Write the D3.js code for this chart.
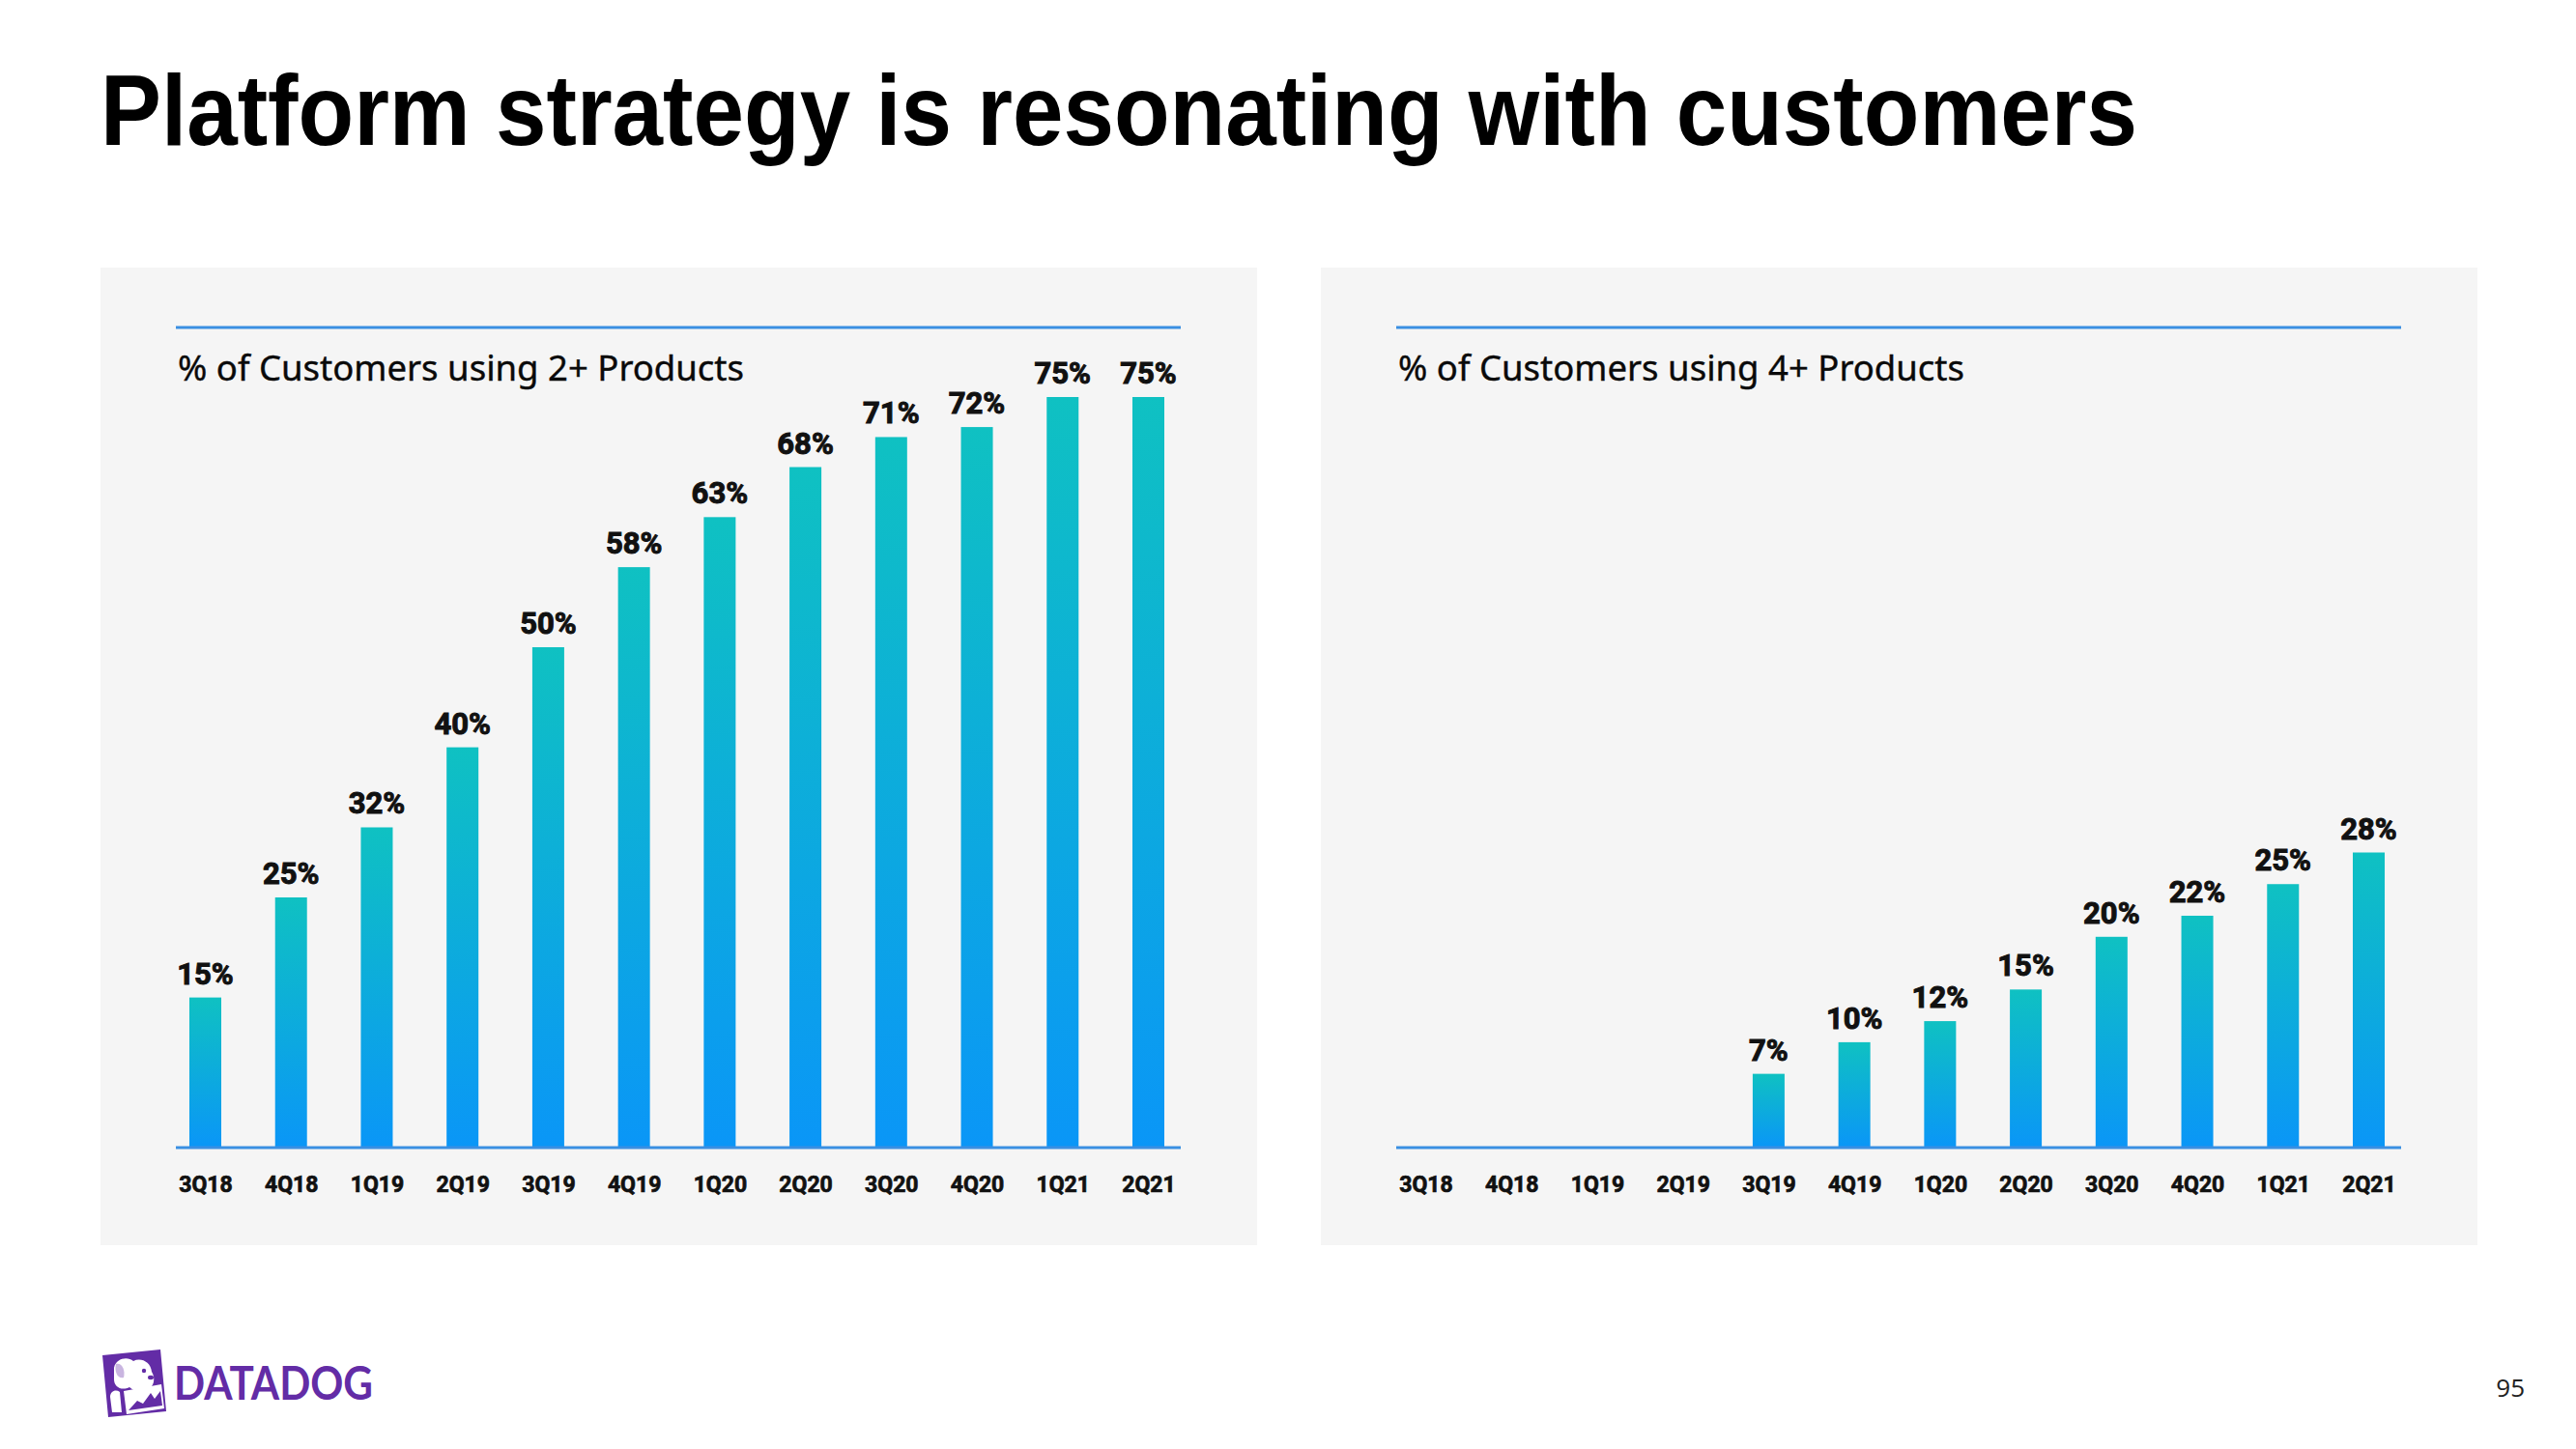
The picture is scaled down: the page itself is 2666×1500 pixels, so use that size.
<!DOCTYPE html>
<html>
<head>
<meta charset="utf-8">
<script src="https://cdn.jsdelivr.net/npm/d3@7"></script>
<style>
  html, body { margin: 0; padding: 0; background: #ffffff; }
  svg { display: block; }
</style>
</head>
<body>
<svg id="chart" width="2666" height="1500"></svg>
<script>
// ---- data ----
const quarters = ["3Q18","4Q18","1Q19","2Q19","3Q19","4Q19","1Q20","2Q20","3Q20","4Q20","1Q21","2Q21"];
const twoPlus  = [15, 25, 32, 40, 50, 58, 63, 68, 71, 72, 75, 75];
const fourPlus = [null, null, null, null, 7, 10, 12, 15, 20, 22, 25, 28];
const titleText = "Platform strategy is resonating with customers";
const panelTitles = ["% of Customers using 2+ Products", "% of Customers using 4+ Products"];
const pageNumber = "95";

const svg = d3.select("#chart");
const W = 2666, H = 1500;
svg.append("rect").attr("width", W).attr("height", H).attr("fill", "#ffffff");

// gradient
const defs = svg.append("defs");
const grad = defs.append("linearGradient").attr("id", "barGrad")
  .attr("x1", 0).attr("y1", 0).attr("x2", 0).attr("y2", 1);
grad.append("stop").attr("offset", "0%").attr("stop-color", "#0fc1c2");
grad.append("stop").attr("offset", "100%").attr("stop-color", "#0a96f7");

// title
svg.append("text")
  .attr("x", 104).attr("y", 150)
  .attr("font-family", "Liberation Sans, Arial, sans-serif")
  .attr("font-weight", 700).attr("font-size", 104)
  .attr("fill", "#000")
  .attr("textLength", 2108).attr("lengthAdjust", "spacingAndGlyphs")
  .text(titleText);

function panel(offsetX, values, title, topValue, topY) {
  const g = svg.append("g").attr("transform", `translate(${offsetX},0)`);
  g.append("rect").attr("x", 104).attr("y", 277).attr("width", 1197).attr("height", 1012)
    .attr("fill", "#f5f5f5");
  const baseY = 1188;
  const x = d3.scalePoint().domain(quarters).range([212.5, 1188.5]);
  const y = d3.scaleLinear().domain([0, topValue]).range([baseY, topY]);
  const bw = 33;

  // top rule
  g.append("line").attr("x1", 182).attr("x2", 1222).attr("y1", 339).attr("y2", 339)
    .attr("stroke", "#3a8fe2").attr("stroke-width", 3);
  // subtitle
  g.append("text").attr("x", 184).attr("y", 394)
    .attr("font-family", "Noto Sans, Open Sans, sans-serif")
    .attr("font-size", 37).attr("fill", "#0a0a0a")
    .attr("stroke", "#0a0a0a").attr("stroke-width", 0.4)
    .attr("textLength", 586).attr("lengthAdjust", "spacingAndGlyphs")
    .text(title);

  const data = quarters.map((q, i) => ({ q, v: values[i] })).filter(d => d.v != null);
  g.selectAll("rect.bar").data(data).enter().append("rect")
    .attr("class", "bar")
    .attr("x", d => x(d.q) - bw / 2)
    .attr("y", d => y(d.v))
    .attr("width", bw)
    .attr("height", d => baseY - y(d.v))
    .attr("fill", "url(#barGrad)");

  g.selectAll("text.val").data(data).enter().append("text")
    .attr("class", "val")
    .attr("x", d => x(d.q))
    .attr("y", d => y(d.v) - 14)
    .attr("text-anchor", "middle")
    .attr("font-family", "Roboto, Inter, sans-serif")
    .attr("font-weight", 700).attr("font-size", 31)
    .attr("fill", "#111").attr("stroke", "#111").attr("stroke-width", 1)
    .text(d => d.v + "%");

  // axis baseline
  g.append("line").attr("x1", 182).attr("x2", 1222).attr("y1", baseY).attr("y2", baseY)
    .attr("stroke", "#3a8fe2").attr("stroke-width", 3);

  const axis = d3.axisBottom(x).tickSize(0).tickPadding(0);
  const ag = g.append("g").attr("transform", `translate(0,${baseY})`).call(axis);
  ag.select(".domain").remove();
  ag.selectAll("text")
    .attr("y", 46).attr("dy", 0)
    .attr("font-family", "Roboto, Inter, sans-serif")
    .attr("font-weight", 700).attr("font-size", 23)
    .attr("fill", "#111").attr("stroke", "#111").attr("stroke-width", 0.7);
}

panel(0, twoPlus, panelTitles[0], 75, 411);
panel(1263, fourPlus, panelTitles[1], 28, 882.5);

// logo
const logo = svg.append("g");
const purple = "#632ca6";
logo.append("path")
  .attr("d", "M106,1403 L166,1397 L172,1461 L112,1467 Z")
  .attr("fill", purple);
// dog head
logo.append("path")
  .attr("d", "M118,1416 C120,1406 132,1404 138,1409 C146,1405 156,1410 157,1420 C161,1426 160,1436 152,1439 C146,1442 138,1440 134,1436 C126,1440 118,1436 118,1428 Z")
  .attr("fill", "#ffffff");
logo.append("path")
  .attr("d", "M114,1446 C114,1440 120,1438 124,1441 L126,1462 L116,1462 Z")
  .attr("fill", "#ffffff");
logo.append("path")
  .attr("d", "M128,1440 L167,1433 L170,1458 L131,1464 Z")
  .attr("fill", "#ffffff");
logo.append("path")
  .attr("d", "M133,1460 L142,1450 L148,1453 L156,1442 L160,1448 L166,1440 L168,1455 Z")
  .attr("fill", purple);
logo.append("circle").attr("cx", 149).attr("cy", 1419).attr("r", 2.2).attr("fill", purple);
logo.append("ellipse").attr("cx", 156).attr("cy", 1426).attr("rx", 3).attr("ry", 2.2).attr("fill", purple);
logo.append("path")
  .attr("d", "M120,1412 C118,1420 122,1428 128,1426 C130,1418 126,1410 120,1412 Z")
  .attr("fill", purple).attr("opacity", 0.35);

svg.append("text")
  .attr("x", 180).attr("y", 1449)
  .attr("font-family", "Lato, Roboto, sans-serif")
  .attr("font-weight", 700).attr("font-size", 47)
  .attr("fill", purple)
  .attr("textLength", 206).attr("lengthAdjust", "spacingAndGlyphs")
  .text("DATADOG");

svg.append("text")
  .attr("x", 2613).attr("y", 1446)
  .attr("text-anchor", "end")
  .attr("font-family", "Open Sans, Liberation Sans, sans-serif")
  .attr("font-size", 26).attr("fill", "#222")
  .text(pageNumber);
</script>
</body>
</html>
